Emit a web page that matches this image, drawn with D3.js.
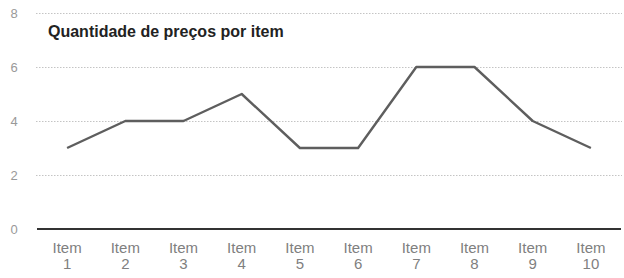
<!DOCTYPE html>
<html>
<head>
<meta charset="utf-8">
<script src="https://cdn.jsdelivr.net/npm/d3@7"></script>
<style>
  body { margin: 0; background: #fff; }
  svg { display: block; font-family: "Liberation Sans", Arial, sans-serif; }
  .grid line { stroke: #c4c4c4; stroke-dasharray: 1.5 1.5; }
  .grid .domain { display: none; }
  .y-axis text { fill: #999; font-size: 13px; text-anchor: middle; }
  .x-axis text { fill: #808080; font-size: 15px; }
</style>
</head>
<body>
<div class="chart"></div>
<script>
var items = ["Item 1", "Item 2", "Item 3", "Item 4", "Item 5", "Item 6", "Item 7", "Item 8", "Item 9", "Item 10"];
var precos = [3, 4, 4, 5, 3, 3, 6, 6, 4, 3];
var yTicks = [0, 2, 4, 6, 8];
var titulo = "Quantidade de preços por item";

function grafico() {
    var margin = { top: 13, right: 2, bottom: 49, left: 36 },
        width = 624 - margin.left - margin.right,
        height = 278 - margin.top - margin.bottom;

    var svg = d3.select(".chart")
        .append("svg")
        .attr("width", width + margin.left + margin.right)
        .attr("height", height + margin.top + margin.bottom)
        .append("g")
        .attr("transform", "translate(" + margin.left + "," + margin.top + ")");

    var x = d3.scaleBand().domain(items).range([2, width - 2]);
    var y = d3.scaleLinear().domain([0, 8]).range([height, 0]);

    // linhas de grade
    svg.append("g")
        .attr("class", "grid")
        .call(d3.axisLeft(y).tickValues(yTicks.slice(1)).tickSize(-width).tickFormat(""));

    // rotulos do eixo y
    svg.append("g")
        .attr("class", "y-axis")
        .call(d3.axisLeft(y).tickValues(yTicks).tickSize(0).tickPadding(22))
        .call(function(g) { g.select(".domain").remove(); });

    // eixo x
    var xAxis = svg.append("g")
        .attr("class", "x-axis")
        .attr("transform", "translate(0," + height + ")")
        .call(d3.axisBottom(x).tickSize(0).tickPadding(13));
    xAxis.select(".domain").remove();
    xAxis.selectAll(".tick text").each(function(d) {
        var parts = d.split(" ");
        var t = d3.select(this).text(null);
        t.append("tspan").attr("x", 0).attr("dy", "0.71em").text(parts[0]);
        t.append("tspan").attr("x", 0).attr("dy", "1.07em").text(parts[1]);
    });

    svg.append("line")
        .attr("x1", 1).attr("x2", width - 1)
        .attr("y1", y(0)).attr("y2", y(0))
        .attr("stroke", "#333")
        .attr("stroke-width", 2);

    var linha = d3.line()
        .x(function(d, i) { return x(items[i]) + x.bandwidth() / 2; })
        .y(function(d) { return y(d); });

    svg.append("path")
        .datum(precos)
        .attr("d", linha)
        .attr("fill", "none")
        .attr("stroke", "#5e5e5e")
        .attr("stroke-width", 2.4)
        .attr("stroke-linejoin", "round");

    svg.append("text")
        .attr("x", 12)
        .attr("y", 24)
        .attr("font-size", "16px")
        .attr("font-weight", "bold")
        .attr("fill", "#222")
        .text(titulo);
}

grafico();
</script>
</body>
</html>
